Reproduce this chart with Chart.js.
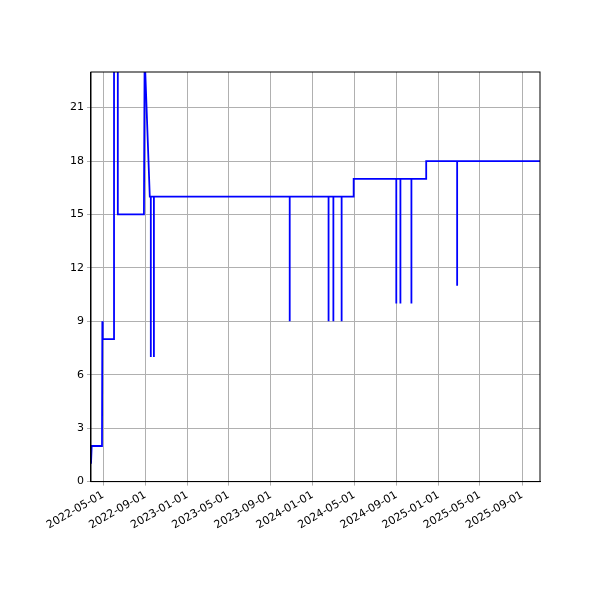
<!DOCTYPE html>
<html>
<head>
<script src="https://cdn.jsdelivr.net/npm/chart.js@4/dist/chart.umd.min.js"></script>
<style>body{margin:0;background:#fff}#wrap{width:600px;height:600px}</style>
</head>
<body>
<div id="wrap"><canvas id="c"></canvas></div>
<script>
// step-like series
var dates = ['2022-03-27','2022-03-29','2022-04-28','2022-04-29','2022-04-30','2022-06-02','2022-06-02','2022-06-13','2022-06-13','2022-08-28','2022-08-30',
  '2022-09-14','2022-09-17','2022-09-17','2022-09-17','2022-09-26','2022-09-26','2022-09-26',
  '2023-10-26','2023-10-26','2023-10-26','2024-02-16','2024-02-16','2024-02-16','2024-03-01','2024-03-01','2024-03-01','2024-03-25','2024-03-25','2024-03-25',
  '2024-04-29','2024-04-29','2024-08-31','2024-08-31','2024-08-31','2024-09-12','2024-09-12','2024-09-12','2024-10-14','2024-10-14','2024-10-14',
  '2024-11-26','2024-11-26','2025-02-24','2025-02-24','2025-02-24','2025-10-23'];
var values = [1,2,2,9,8,8,26,26,15,15,24,
  16,16,7,16,16,7,16,
  16,9,16,16,9,16,16,9,16,16,9,16,
  16,17,17,10,17,17,10,17,17,10,17,
  17,18,18,11,18,18];
var tickDates = ['2022-05-01','2022-09-01','2023-01-01','2023-05-01','2023-09-01','2024-01-01','2024-05-01','2024-09-01','2025-01-01','2025-05-01','2025-09-01'];
var yTicks = [0,3,6,9,12,15,18,21];

function ms(s){ return Date.parse(s + 'T00:00:00Z'); }
var pts = dates.map(function(d,i){ return {x: ms(d), y: values[i]}; });

var boxPlugin = {
  id: 'box',
  afterDraw: function(chart){
    var a = chart.chartArea, c = chart.ctx;
    c.save(); c.strokeStyle = '#000'; c.lineWidth = 1;
    c.strokeRect(a.left, a.top, a.right - a.left, a.bottom - a.top);
    c.restore();
  }
};

new Chart(document.getElementById('c'), {
  type: 'line',
  data: { datasets: [{ data: pts, borderColor: '#0000ff', borderWidth: 1.8, pointRadius: 0, tension: 0 }] },
  options: {
    responsive: true, maintainAspectRatio: false, animation: false,
    layout: { padding: { left: 67, right: 60, top: 72, bottom: 65 } },
    plugins: { legend: { display: false }, tooltip: { enabled: false } },
    scales: {
      x: {
        type: 'linear', min: ms('2022-03-27'), max: ms('2025-10-23'),
        afterBuildTicks: function(a){ a.ticks = tickDates.map(function(d){ return {value: ms(d)}; }); },
        ticks: { autoSkip: false, maxRotation: 30, minRotation: 30, color: '#000', font: { family: 'DejaVu Sans', size: 11 },
          callback: function(v){ return new Date(v).toISOString().slice(0,10); } },
        grid: { color: '#b0b0b0', drawTicks: true, tickLength: 4 },
        border: { color: '#000' }
      },
      y: {
        min: 0, max: 23,
        afterBuildTicks: function(a){ a.ticks = yTicks.map(function(v){ return {value: v}; }); },
        ticks: { color: '#000', font: { family: 'DejaVu Sans', size: 11 } },
        grid: { color: '#b0b0b0', tickLength: 4 },
        border: { color: '#000' }
      }
    }
  },
  plugins: [boxPlugin]
});
</script>
</body>
</html>
